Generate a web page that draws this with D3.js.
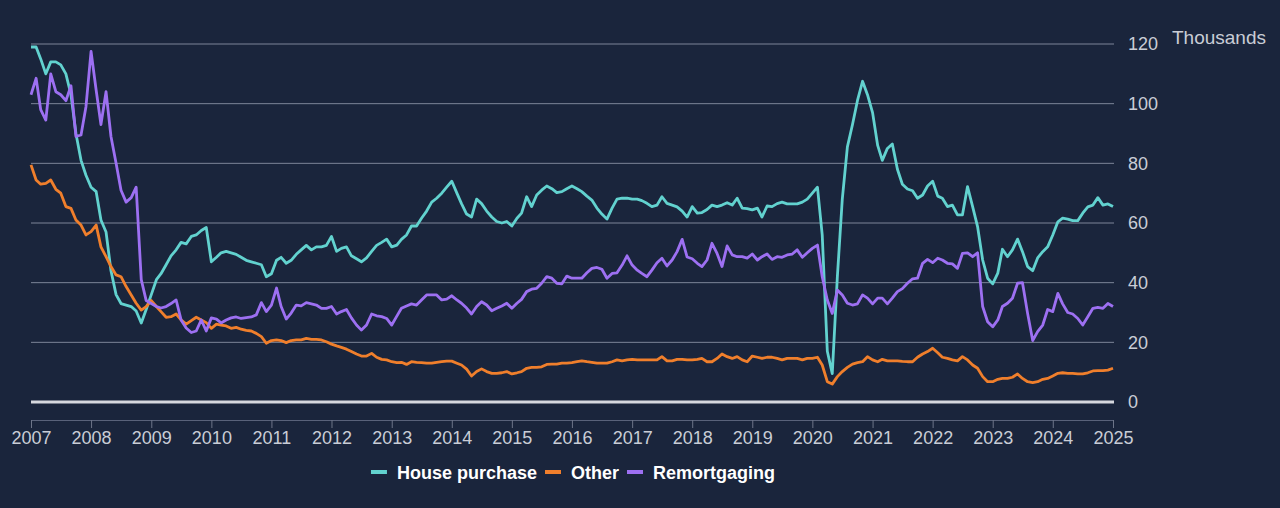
<!DOCTYPE html>
<html>
<head>
<meta charset="utf-8">
<script src="https://cdn.jsdelivr.net/npm/d3@7"></script>
<style>
  html, body { margin: 0; padding: 0; background: #1a253c; }
  svg { display: block; font-family: "Liberation Sans", Arial, sans-serif; }
</style>
</head>
<body>
<svg id="chart"></svg>
<script>
// monthly approvals (thousands), Jan 2007 .. Jan 2025
const startMonth = new Date(2007, 0, 1)

const housePurchase = [
  119, 119, 115, 110, 114, 114, 113, 110, 103, 90, 81, 76,
  72, 70.5, 61, 57, 44, 36, 33, 32.5, 32, 30.5, 26.5, 31,
  36, 41, 43, 46, 49, 51, 53.5, 53, 55.5, 56, 57.5, 58.5,
  47, 48.5, 50, 50.5, 50, 49.5, 48.5, 47.5, 47, 46.5, 46, 42,
  43, 47.5, 48.5, 46.5, 47.5, 49.5, 51, 52.5, 51, 52, 52, 52.5,
  55.5, 50.5, 51.5, 52, 49, 48, 47, 48.3, 50.5, 52.5, 53.5, 54.6,
  52, 52.6, 54.5, 56, 59, 59, 61.6, 64, 67, 68.3, 70, 72,
  74, 70, 66.5, 63, 62, 68, 66.5, 64, 62, 60.5, 60, 60.5,
  59, 61.6, 63.3, 68.8, 65.5, 69.4, 71, 72.4, 71.5, 70.2, 70.5, 71.5,
  72.4, 71.5, 70.5, 69, 67.7, 65, 63, 61.3, 65, 68, 68.3, 68.3,
  68, 68, 67.5, 66.6, 65.5, 66, 68.8, 66.6, 66, 65.4, 64, 62,
  65.5, 63.3, 63.5, 64.5, 66, 65.5, 66, 66.8, 66, 68.3, 65, 64.8,
  64.4, 65, 62, 65.7, 65.5, 66.5, 67, 66.4, 66.4, 66.4, 67, 68,
  70, 72, 56, 17, 9.5, 42, 68, 85.5, 93, 101, 107.5, 103,
  97, 86, 81, 85, 86.5, 78, 73, 71.4, 70.8, 68.3, 69.4, 72.4,
  74, 69, 68.3, 65.5, 66, 62.7, 62.7, 72.2, 65.5, 58.8, 47.6, 41.5,
  39.6, 43.2, 51.2, 48.7, 51, 54.6, 50.4, 45.4, 44, 48.3, 50.4, 52,
  56, 60.4, 61.6, 61.3, 60.8, 60.8, 63.3, 65.4, 66, 68.5, 66, 66.4,
  65.5
]

const other = [
  79.5, 74.4, 73, 73.3, 74.4, 71.3, 70, 65.5, 64.9, 61, 59.3, 56,
  57.1, 59.3, 52, 48.7, 45.4, 42.6, 42, 38.7, 35.9, 33.1, 30.8, 32,
  34, 32, 30.3, 28.4, 28.6, 29.5, 27.5, 26.1, 27.3, 28.4, 27.5, 26.6,
  24.7, 26.1, 25.8, 25.5, 24.7, 25, 24.4, 24, 23.8, 23, 21.9, 19.7,
  20.6, 20.8, 20.6, 19.9, 20.6, 20.8, 20.8, 21.3, 21, 21, 20.8, 20.2,
  19.4, 18.8, 18.3, 17.7, 16.9, 16.1, 15.4, 15.4, 16.3, 15, 14.3, 14.1,
  13.5, 13.2, 13.3, 12.6, 13.5, 13.3, 13.2, 13, 13, 13.3, 13.5, 13.7,
  13.7, 13, 12.4, 11, 8.7, 10.2, 11.1, 10.2, 9.6, 9.6, 9.8, 10.2,
  9.4, 9.8, 10.2, 11.3, 11.6, 11.6, 11.8, 12.6, 12.7, 12.7, 13, 13,
  13.2, 13.5, 13.8, 13.5, 13.3, 13, 13, 13, 13.5, 14.1, 13.8, 14.1,
  14.3, 14.1, 14.1, 14.1, 14.1, 14.1, 15.2, 13.8, 13.8, 14.3, 14.3, 14.1,
  14.1, 14.3, 14.6, 13.5, 13.5, 14.6, 16.1, 15.2, 14.6, 15.2, 14.1, 13.5,
  15.4, 15, 14.6, 15, 15, 14.6, 14.1, 14.6, 14.6, 14.6, 14.1, 14.6,
  14.6, 15, 12.4, 6.8, 6, 8.5, 10.2, 11.6, 12.7, 13.2, 13.5, 15.2,
  14.1, 13.5, 14.3, 13.8, 13.8, 13.8, 13.6, 13.5, 13.5, 15, 16.1, 16.9,
  18, 16.5, 15, 14.6, 14.1, 13.8, 15.2, 14.1, 12.4, 11.3, 8.5, 6.8,
  6.8, 7.6, 7.9, 7.9, 8.3, 9.4, 7.9, 6.8, 6.5, 6.8, 7.6, 7.9,
  8.7, 9.6, 9.8, 9.6, 9.6, 9.4, 9.4, 9.8, 10.4, 10.5, 10.5, 10.7,
  11.3
]

const remortgaging = [
  103, 108.5, 98, 94.5, 110, 104, 103, 101, 106, 89, 89.5, 99,
  117.5, 104.5, 93, 104, 89, 80, 71, 67, 68.5, 72, 41, 34,
  33, 32, 31.5, 32, 33, 34.2, 27.5, 24.8, 23.3, 23.8, 27.5, 23.8,
  28.2, 27.8, 26.5, 27.5, 28.2, 28.5, 28, 28.3, 28.5, 29.2, 33.3, 30.3,
  32.5, 38.2, 32, 27.8, 29.8, 32.5, 32.2, 33.3, 32.9, 32.5, 31.4, 31.4,
  32, 29.5, 30.3, 31, 28.2, 25.8, 24.1, 25.8, 29.5, 28.9, 28.6, 28,
  25.8, 28.8, 31.4, 32.2, 32.9, 32.5, 34.2, 35.9, 35.9, 35.9, 34.2, 34.5,
  35.6, 34.2, 33.1, 31.5, 29.5, 32, 33.6, 32.5, 30.6, 31.4, 32.2, 33.1,
  31.4, 33.1, 34.4, 37, 37.8, 38.1, 39.8, 42, 41.5, 39.8, 39.6, 42.2,
  41.5, 41.5, 41.5, 43.3, 44.8, 45.1, 44.5, 41.5, 43.1, 43.3, 45.9, 49,
  45.9, 44.2, 43.1, 42, 44.2, 46.7, 48.2, 45.6, 47.6, 50.4, 54.5, 48.6,
  48, 46.5, 45.4, 47.6, 53.2, 49.8, 45.4, 52.3, 49.3, 48.7, 48.7, 48.2,
  49.6, 47.6, 48.7, 49.6, 47.8, 48.7, 48.5, 49.3, 49.6, 51, 48.5, 50,
  51.5, 52.6, 42, 34.2, 29.7, 37.5, 35.9, 33.1, 32.5, 32.9, 35.9, 34.8,
  32.9, 34.8, 34.8, 32.9, 34.8, 37, 38, 39.8, 41.3, 41.5, 46.5, 47.8,
  46.7, 48.2, 47.6, 46.5, 46.3, 44.8, 49.8, 50, 48.7, 50, 32, 26.9,
  25.2, 27.5, 32, 33.1, 34.8, 39.8, 40, 29.7, 20.6, 23.6, 25.8, 31,
  30.3, 36.4, 32.9, 30, 29.5, 28, 25.8, 28.6, 31.4, 31.7, 31.4, 33,
  32
]

const seriesNames = ['House purchase', 'Other', 'Remortgaging']
const seriesColors = ['#62d2cf', '#f07f2c', '#9d70f2']
const yTicks = [0, 20, 40, 60, 80, 100, 120]

const width = 1280
const height = 508
const fontFamily = '"Liberation Sans", Arial, sans-serif'

const svg = d3.select('#chart')
  .attr('width', width)
  .attr('height', height)

svg.append('rect')
  .attr('width', width)
  .attr('height', height)
  .attr('fill', '#1a253c')

const months = housePurchase.map((d, i) => d3.timeMonth.offset(startMonth, i))

const x = d3.scaleTime()
  .domain([startMonth, months[months.length - 1]])
  .range([31, 1113])

const y = d3.scaleLinear()
  .domain([0, 120])
  .range([402, 44])

// gridlines
svg.append('g')
  .selectAll('line')
  .data(yTicks.filter(d => d > 0))
  .enter().append('line')
  .attr('x1', 31)
  .attr('x2', 1114)
  .attr('y1', d => y(d))
  .attr('y2', d => y(d))
  .attr('stroke', '#7c8598')
  .attr('stroke-width', 1)

// y labels on the right
const yAxis = svg.append('g')
  .attr('transform', 'translate(1114,0)')
  .call(d3.axisRight(y).tickValues(yTicks).tickSize(0).tickPadding(14))
yAxis.select('.domain').remove()
yAxis.selectAll('text')
  .attr('fill', '#c9cdd6')
  .attr('font-size', '18px')
  .attr('font-family', fontFamily)

svg.append('text')
  .attr('x', 1172)
  .attr('y', 44)
  .attr('fill', '#c9cdd6')
  .attr('font-size', '19px')
  .attr('font-family', fontFamily)
  .text('Thousands')

// x axis
const xAxis = svg.append('g')
  .attr('transform', 'translate(0,420)')
  .call(d3.axisBottom(x)
    .ticks(d3.timeYear.every(1))
    .tickFormat(d3.timeFormat('%Y'))
    .tickSizeOuter(0)
    .tickSize(8)
    .tickPadding(3))
xAxis.select('.domain').attr('stroke', '#59627a')
xAxis.selectAll('.tick line').attr('stroke', '#6d7589')
xAxis.selectAll('text')
  .attr('fill', '#c9cdd6')
  .attr('font-size', '18px')
  .attr('font-family', fontFamily)

// series lines
const allSeries = [housePurchase, other, remortgaging]
const line = d3.line()
  .x((d, i) => x(months[i]))
  .y(d => y(d))

svg.append('g')
  .selectAll('path')
  .data(allSeries)
  .enter().append('path')
  .attr('d', line)
  .attr('fill', 'none')
  .attr('stroke', (d, i) => seriesColors[i])
  .attr('stroke-width', 2.8)
  .attr('stroke-linejoin', 'round')

// zero line
svg.append('line')
  .attr('x1', 31)
  .attr('x2', 1114)
  .attr('y1', y(0))
  .attr('y2', y(0))
  .attr('stroke', '#d6d8de')
  .attr('stroke-width', 3)

// legend
const legend = svg.append('g')
let cursor = 0
seriesNames.forEach((name, i) => {
  const item = legend.append('g').attr('transform', `translate(${cursor},0)`)
  item.append('line')
    .attr('x1', 0).attr('x2', 16)
    .attr('y1', 0).attr('y2', 0)
    .attr('stroke', seriesColors[i])
    .attr('stroke-width', 4)
  const t = item.append('text')
    .attr('x', 26)
    .attr('y', 6.5)
    .attr('fill', '#ffffff')
    .attr('font-size', '18px')
    .attr('font-weight', 'bold')
    .attr('font-family', fontFamily)
    .text(name)
  cursor += 26 + t.node().getComputedTextLength() + 8
})
const legendWidth = cursor - 8
legend.attr('transform', `translate(${573 - legendWidth / 2},472)`)
</script>
</body>
</html>
